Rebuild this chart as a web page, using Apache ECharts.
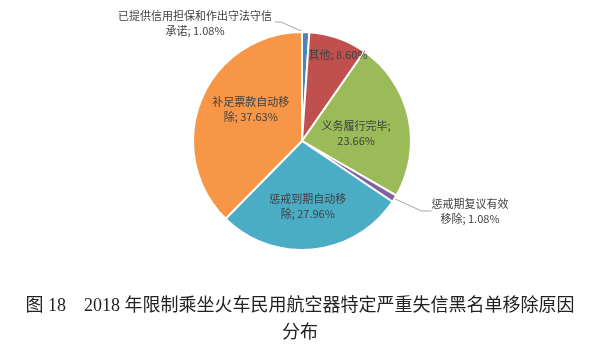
<!DOCTYPE html>
<html>
<head>
<meta charset="utf-8">
<script src="https://cdn.jsdelivr.net/npm/echarts@6/dist/echarts.min.js"></script>
<style>
  html, body { margin: 0; padding: 0; background: #ffffff; }
  #chart { width: 600px; height: 345px; }
</style>
</head>
<body>
<div id="chart"></div>
<script>
// Removal reasons and their shares (%)
const categories = [
  '已提供信用担保和作出守法守信承诺',
  '其他',
  '义务履行完毕',
  '惩戒期复议有效移除',
  '惩戒到期自动移除',
  '补足票款自动移除'
];
const shares = [1.08, 8.60, 23.66, 1.08, 27.96, 37.63];

// Where each label's text wraps onto a second line (character index, 0 = no wrap)
const wrapAt = [14, 0, 7, 7, 7, 7];

// Office-style palette
const sliceColors = ['#4F81BD', '#C0504D', '#9BBB59', '#8064A2', '#4BACC6', '#F79646'];

const captionLines = [
  '图 18　2018 年限制乘坐火车民用航空器特定严重失信黑名单移除原因',
  '分布'
];

// Thin slices get their labels outside the pie with a leader line
const outsideSlices = [0, 3];
// Inside labels are nudged away from the default mid-radius spot
const insideNudge = { 1: [17, -32], 2: [-2, 5], 4: [0, 8], 5: [2, -10] };
// Anchor points for the outside labels
const outsideAnchor = { 0: [195, 23], 3: [470, 211] };

function labelText(p) {
  const full = p.name + '; ' + p.value.toFixed(2) + '%';
  const k = wrapAt[p.dataIndex];
  if (!k) return full;
  return full.slice(0, k) + '\n' + full.slice(k).replace(/^\s+/, '');
}

const chart = echarts.init(document.getElementById('chart'), null, { renderer: 'canvas' });

chart.setOption({
  backgroundColor: '#ffffff',
  animation: false,
  title: {
    text: captionLines.join('\n'),
    left: 'center',
    top: 288,
    textStyle: {
      fontFamily: "'Liberation Serif', 'Noto Sans CJK SC'",
      fontSize: 18,
      fontWeight: 'normal',
      color: '#222222',
      lineHeight: 27
    }
  },
  series: [{
    type: 'pie',
    center: [302, 141],
    radius: 109,
    startAngle: 90,
    clockwise: true,
    avoidLabelOverlap: false,
    itemStyle: { borderColor: '#ffffff', borderWidth: 2 },
    label: {
      formatter: labelText,
      fontFamily: "'Noto Sans CJK SC', sans-serif",
      fontSize: 11,
      color: '#404040',
      lineHeight: 15,
      align: 'center'
    },
    labelLine: {
      lineStyle: { color: '#a6a6a6', width: 1 }
    },
    labelLayout: function (params) {
      const i = params.dataIndex;
      if (outsideAnchor[i]) {
        const ax = outsideAnchor[i][0];
        const ay = outsideAnchor[i][1];
        const w = params.labelRect.width;
        const r = params.rect;
        const out = { x: ax, y: ay, align: 'center', verticalAlign: 'middle' };
        if (i === 0) {
          // leader runs from the top of the thin slice back to the label's right end
          out.labelLinePoints = [
            [r.x + r.width / 2, r.y + 2],
            [ax + w / 2 + 9, ay - 1],
            [ax + w / 2 + 3, ay - 1]
          ];
        }
        return out;
      }
      const n = insideNudge[i] || [0, 0];
      return { dx: n[0], dy: n[1] };
    },
    data: categories.map(function (name, i) {
      const outside = outsideSlices.indexOf(i) >= 0;
      return {
        name: name,
        value: shares[i],
        itemStyle: { color: sliceColors[i] },
        label: { position: outside ? 'outside' : 'inside' },
        labelLine: { show: outside, length: 10, length2: 10 }
      };
    })
  }]
});
</script>
</body>
</html>
